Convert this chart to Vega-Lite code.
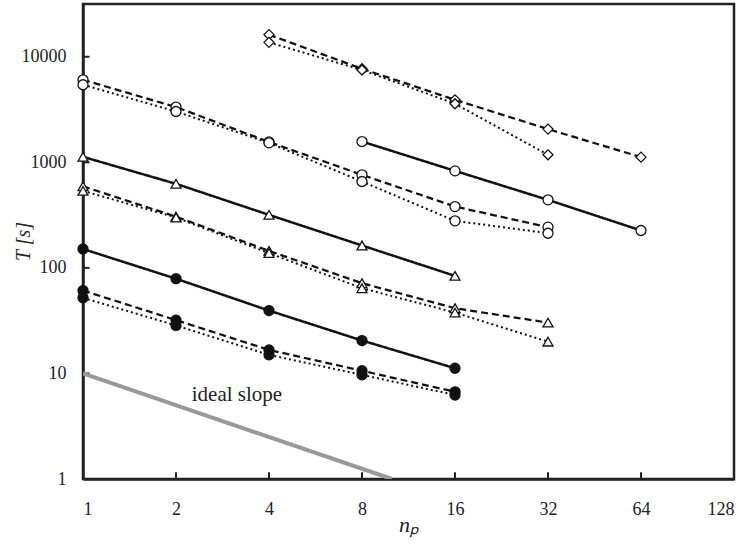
{
  "$schema": "https://vega.github.io/schema/vega-lite/v6.json",
  "width": 651,
  "height": 475,
  "autosize": {"type": "none"},
  "padding": {"left": 83, "top": 4, "right": 16, "bottom": 70},
  "background": "white",
  "config": {
    "view": {"stroke": "#222", "strokeWidth": 2.5}
  },
  "datasets": {
    "series": [
      {"n": 1, "T": 151, "series": "fc_solid", "style": "solid", "marker": "fcircle"},
      {"n": 2, "T": 79, "series": "fc_solid", "style": "solid", "marker": "fcircle"},
      {"n": 4, "T": 39.4, "series": "fc_solid", "style": "solid", "marker": "fcircle"},
      {"n": 8, "T": 20.5, "series": "fc_solid", "style": "solid", "marker": "fcircle"},
      {"n": 16, "T": 11.2, "series": "fc_solid", "style": "solid", "marker": "fcircle"},
      {"n": 1, "T": 61, "series": "fc_dashed", "style": "dashed", "marker": "fcircle"},
      {"n": 2, "T": 32, "series": "fc_dashed", "style": "dashed", "marker": "fcircle"},
      {"n": 4, "T": 16.7, "series": "fc_dashed", "style": "dashed", "marker": "fcircle"},
      {"n": 8, "T": 10.6, "series": "fc_dashed", "style": "dashed", "marker": "fcircle"},
      {"n": 16, "T": 6.7, "series": "fc_dashed", "style": "dashed", "marker": "fcircle"},
      {"n": 1, "T": 52, "series": "fc_dotted", "style": "dotted", "marker": "fcircle"},
      {"n": 2, "T": 28.5, "series": "fc_dotted", "style": "dotted", "marker": "fcircle"},
      {"n": 4, "T": 15, "series": "fc_dotted", "style": "dotted", "marker": "fcircle"},
      {"n": 8, "T": 9.7, "series": "fc_dotted", "style": "dotted", "marker": "fcircle"},
      {"n": 16, "T": 6.25, "series": "fc_dotted", "style": "dotted", "marker": "fcircle"},
      {"n": 1, "T": 1127, "series": "tr_solid", "style": "solid", "marker": "triangle"},
      {"n": 2, "T": 626, "series": "tr_solid", "style": "solid", "marker": "triangle"},
      {"n": 4, "T": 318, "series": "tr_solid", "style": "solid", "marker": "triangle"},
      {"n": 8, "T": 163, "series": "tr_solid", "style": "solid", "marker": "triangle"},
      {"n": 16, "T": 84, "series": "tr_solid", "style": "solid", "marker": "triangle"},
      {"n": 1, "T": 592, "series": "tr_dashed", "style": "dashed", "marker": "triangle"},
      {"n": 2, "T": 306, "series": "tr_dashed", "style": "dashed", "marker": "triangle"},
      {"n": 4, "T": 145, "series": "tr_dashed", "style": "dashed", "marker": "triangle"},
      {"n": 8, "T": 71.6, "series": "tr_dashed", "style": "dashed", "marker": "triangle"},
      {"n": 16, "T": 41.5, "series": "tr_dashed", "style": "dashed", "marker": "triangle"},
      {"n": 32, "T": 30.3, "series": "tr_dashed", "style": "dashed", "marker": "triangle"},
      {"n": 1, "T": 537, "series": "tr_dotted", "style": "dotted", "marker": "triangle"},
      {"n": 2, "T": 300, "series": "tr_dotted", "style": "dotted", "marker": "triangle"},
      {"n": 4, "T": 138, "series": "tr_dotted", "style": "dotted", "marker": "triangle"},
      {"n": 8, "T": 64.2, "series": "tr_dotted", "style": "dotted", "marker": "triangle"},
      {"n": 16, "T": 37.7, "series": "tr_dotted", "style": "dotted", "marker": "triangle"},
      {"n": 32, "T": 20, "series": "tr_dotted", "style": "dotted", "marker": "triangle"},
      {"n": 8, "T": 1574, "series": "oc_solid", "style": "solid", "marker": "ocircle"},
      {"n": 16, "T": 830, "series": "oc_solid", "style": "solid", "marker": "ocircle"},
      {"n": 32, "T": 441, "series": "oc_solid", "style": "solid", "marker": "ocircle"},
      {"n": 64, "T": 226, "series": "oc_solid", "style": "solid", "marker": "ocircle"},
      {"n": 1, "T": 6050, "series": "oc_dashed", "style": "dashed", "marker": "ocircle"},
      {"n": 2, "T": 3340, "series": "oc_dashed", "style": "dashed", "marker": "ocircle"},
      {"n": 4, "T": 1560, "series": "oc_dashed", "style": "dashed", "marker": "ocircle"},
      {"n": 8, "T": 761, "series": "oc_dashed", "style": "dashed", "marker": "ocircle"},
      {"n": 16, "T": 381, "series": "oc_dashed", "style": "dashed", "marker": "ocircle"},
      {"n": 32, "T": 243, "series": "oc_dashed", "style": "dashed", "marker": "ocircle"},
      {"n": 1, "T": 5430, "series": "oc_dotted", "style": "dotted", "marker": "ocircle"},
      {"n": 2, "T": 3030, "series": "oc_dotted", "style": "dotted", "marker": "ocircle"},
      {"n": 4, "T": 1530, "series": "oc_dotted", "style": "dotted", "marker": "ocircle"},
      {"n": 8, "T": 658, "series": "oc_dotted", "style": "dotted", "marker": "ocircle"},
      {"n": 16, "T": 279, "series": "oc_dotted", "style": "dotted", "marker": "ocircle"},
      {"n": 32, "T": 213, "series": "oc_dotted", "style": "dotted", "marker": "ocircle"},
      {"n": 4, "T": 16200, "series": "di_dashed", "style": "dashed", "marker": "diamond"},
      {"n": 8, "T": 7700, "series": "di_dashed", "style": "dashed", "marker": "diamond"},
      {"n": 16, "T": 3910, "series": "di_dashed", "style": "dashed", "marker": "diamond"},
      {"n": 32, "T": 2065, "series": "di_dashed", "style": "dashed", "marker": "diamond"},
      {"n": 64, "T": 1120, "series": "di_dashed", "style": "dashed", "marker": "diamond"},
      {"n": 4, "T": 13700, "series": "di_dotted", "style": "dotted", "marker": "diamond"},
      {"n": 8, "T": 7500, "series": "di_dotted", "style": "dotted", "marker": "diamond"},
      {"n": 16, "T": 3590, "series": "di_dotted", "style": "dotted", "marker": "diamond"},
      {"n": 32, "T": 1178, "series": "di_dotted", "style": "dotted", "marker": "diamond"}
    ],
    "ideal": [
      {"n": 1, "T": 10},
      {"n": 10, "T": 1}
    ],
    "label": [
      {"n": 3.15, "T": 6.3, "text": "ideal slope"}
    ],
    "xticks": [
      {"n": 2, "T": 1}, {"n": 4, "T": 1}, {"n": 8, "T": 1}, {"n": 16, "T": 1}, {"n": 32, "T": 1}, {"n": 64, "T": 1}
    ],
    "yticks": [
      {"n": 1, "T": 10}, {"n": 1, "T": 100}, {"n": 1, "T": 1000}, {"n": 1, "T": 10000}
    ]
  },
  "encoding": {
    "x": {
      "field": "n",
      "type": "quantitative",
      "scale": {"type": "log", "base": 2, "domain": [1, 128], "nice": false},
      "axis": {
        "values": [1, 2, 4, 8, 16, 32, 64, 128],
        "format": "d",
        "grid": false,
        "domainColor": "#222",
        "domainWidth": 2.5,
        "ticks": false,
        "labelFont": "Liberation Serif",
        "labelFontSize": 18,
        "labelColor": "#222",
        "labelPadding": 21,
        "title": "nₚ",
        "titleFont": "Liberation Serif",
        "titleFontStyle": "italic",
        "titleFontWeight": "normal",
        "titleColor": "#222",
        "titleFontSize": 22,
        "titlePadding": 0,
        "titleY": 52,
        "titleBaseline": "alphabetic"
      }
    },
    "y": {
      "field": "T",
      "type": "quantitative",
      "scale": {"type": "log", "domain": [1, 31623], "nice": false},
      "axis": {
        "values": [1, 10, 100, 1000, 10000],
        "format": "d",
        "grid": false,
        "domainColor": "#222",
        "domainWidth": 2.5,
        "ticks": false,
        "labelFont": "Liberation Serif",
        "labelFontSize": 18,
        "labelColor": "#222",
        "labelPadding": 17,
        "title": "T [s]",
        "titleFont": "Liberation Serif",
        "titleFontStyle": "italic",
        "titleFontWeight": "normal",
        "titleColor": "#222",
        "titleFontSize": 20,
        "titleX": -60,
        "titleY": 237,
        "titleAngle": 270,
        "titleAlign": "center",
        "titleBaseline": "middle"
      }
    }
  },
  "layer": [
    {
      "data": {"name": "xticks"},
      "mark": {"type": "rule", "color": "#222", "strokeWidth": 2, "opacity": 1, "clip": true},
      "encoding": {"y2": {"datum": 1.16}}
    },
    {
      "data": {"name": "yticks"},
      "mark": {"type": "rule", "color": "#222", "strokeWidth": 2, "opacity": 1, "clip": true},
      "encoding": {"x2": {"datum": 1.05}}
    },
    {
      "data": {"name": "ideal"},
      "mark": {"type": "line", "color": "#999999", "strokeWidth": 4, "clip": true},
      "encoding": {}
    },
    {
      "data": {"name": "label"},
      "mark": {"type": "text", "font": "Liberation Serif", "fontSize": 21, "color": "#222", "align": "center", "baseline": "middle"},
      "encoding": {"text": {"field": "text"}}
    },
    {
      "data": {"name": "series"},
      "mark": {"type": "line", "color": "#111"},
      "encoding": {
        "detail": {"field": "series"},
        "strokeDash": {
          "field": "style",
          "type": "nominal",
          "scale": {"domain": ["solid", "dashed", "dotted"], "range": [[1, 0], [7, 4], [2, 3]]},
          "legend": null
        },
        "strokeWidth": {
          "field": "style",
          "type": "nominal",
          "scale": {"domain": ["solid", "dashed", "dotted"], "range": [2.5, 2, 1.6]},
          "legend": null
        }
      }
    },
    {
      "data": {"name": "series"},
      "mark": {"type": "point", "filled": true, "stroke": "#111", "strokeWidth": 1.3, "opacity": 1, "size": 100},
      "encoding": {
        "shape": {
          "field": "marker",
          "type": "nominal",
          "scale": {"domain": ["fcircle", "ocircle", "triangle", "diamond"], "range": ["circle", "circle", "triangle-up", "diamond"]},
          "legend": null
        },
        "fill": {
          "field": "marker",
          "type": "nominal",
          "scale": {"domain": ["fcircle", "ocircle", "triangle", "diamond"], "range": ["#111111", "#ffffff", "#ffffff", "#ffffff"]},
          "legend": null
        }
      }
    }
  ]
}
